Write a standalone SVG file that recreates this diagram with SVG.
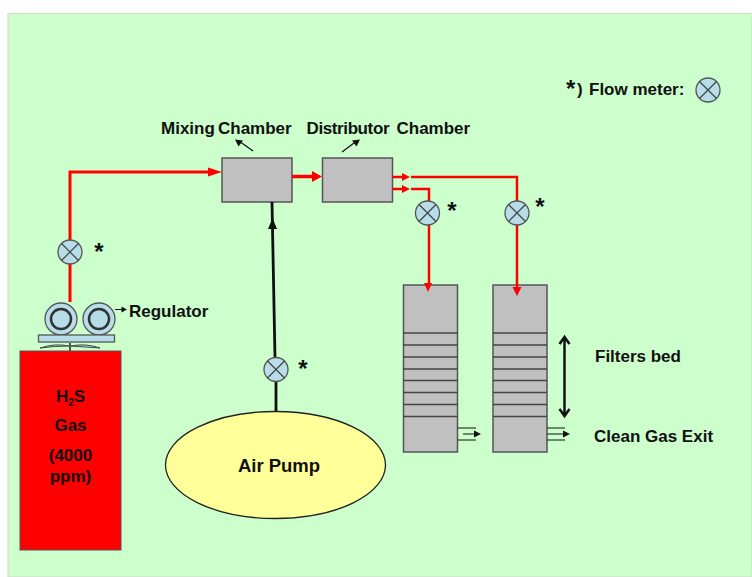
<svg xmlns="http://www.w3.org/2000/svg" width="752" height="577" viewBox="0 0 752 577">
<style>
text{font-family:"Liberation Sans",Arial,sans-serif;font-weight:bold;fill:#111;font-size:17px}
.c{text-anchor:middle}
.box{fill:#c0c0c0;stroke:#555;stroke-width:1.5}
.m{fill:#b7dde8;stroke:#555;stroke-width:1.3}
.x{stroke:#444;stroke-width:1.2;fill:none}
.red{stroke:#f00;fill:none;stroke-width:2.500}
.bk{stroke:#111;fill:none;stroke-width:1.2}
.sep{stroke:#444;stroke-width:1.4}
.st{font-size:24px}
</style>
<defs>
<g id="fm"><circle class="m" r="12"/><path class="x" d="M-8.500-8.500L8.500 8.500M8.500-8.500L-8.500 8.500"/></g>
<g id="reg"><circle class="m" r="16"/><circle r="10" fill="none" stroke="#333" stroke-width="2.500"/></g>
</defs>
<rect width="752" height="577" fill="#fff"/>
<rect id="background" x="8" y="13.500" width="744" height="563.500" fill="#ccffcc" stroke="#d2ddcc" stroke-width="1.200"/>
<g id="mixing-chamber"><rect class="box" x="222" y="158" width="70" height="44"/><text x="161" y="134">Mixing</text><text x="218" y="134">Chamber</text></g>
<g id="distributor-chamber"><rect class="box" x="322.500" y="158" width="70" height="44"/><text x="306.500" y="134" textLength="83">Distributor</text><text x="396.500" y="134">Chamber</text></g>
<g id="filter-1"><rect class="box" x="403.500" y="285" width="54" height="167"/><path class="sep" d="M403.500 333H457.500M403.500 345H457.500M403.500 357H457.500M403.500 369H457.500M403.500 380.500H457.500M403.500 392.500H457.500M403.500 404.500H457.500M403.500 416.500H457.500"/></g>
<g id="filter-2"><rect class="box" x="493" y="285" width="54" height="167"/><path class="sep" d="M493 333H547M493 345H547M493 357H547M493 369H547M493 380.500H547M493 392.500H547M493 404.500H547M493 416.500H547"/></g>
<g id="air-pump"><ellipse cx="275.500" cy="465" rx="110" ry="53.500" fill="#ffff99" stroke="#222" stroke-width="1.300"/><text class="c" x="279" y="472" style="font-size:18.500px">Air Pump</text></g>
<g id="connectors">
<path class="red" style="stroke-width:3" d="M70 302V172H212"/>
<path d="M222 172L208 167.500V176.500Z" fill="#f00"/>
<path class="red" style="stroke-width:3.500" d="M292 176.500H314"/>
<path d="M322 176.500L312 171V182Z" fill="#f00"/>
<path class="red" d="M392 177H402M392 189H402M411 177H517V202M411 189H429V202M429 224V284M517 224V290"/>
<path d="M410 177L402 173V181ZM410 189L402 185V193ZM428 292L424 283H432ZM517 296L512.500 287H521.500Z" fill="#f00"/>
<path stroke="#111" stroke-width="2.800" fill="none" d="M272 202L275 358M276 382V411"/>
<path d="M272.500 218L268 229H277Z" fill="#111"/>
<path class="bk" d="M253 151L239 141M342 152L356 141.500M115 309.500H122M458 428H476M463 434H476M458 440H476M547 428H565M547 434H565M547 440H565"/>
<path d="M235 139.500L243 140.500L238.500 146.500ZM360 139.500L352 140.500L356.500 146.500ZM127 309.500L121.500 306.500V312.500ZM481 434L474 430.500V437.500ZM570 434L563 430.500V437.500Z" fill="#111"/>
<path stroke="#111" stroke-width="2.500" fill="none" d="M564.500 338V414M559.500 344L564.500 337L569.500 344M559.500 409L564.500 416L569.500 409"/>
</g>
<g id="flow-meter-key"><use href="#fm" x="708" y="90"/><text class="st" x="566" y="97">*</text><text x="577" y="95">)</text><text x="589" y="95">Flow meter:</text></g>
<g id="meter-1"><use href="#fm" x="70" y="252"/><text class="c st" x="99" y="260">*</text></g>
<g id="meter-2"><use href="#fm" x="427.500" y="213"/><text class="c st" x="452" y="219">*</text></g>
<g id="meter-3"><use href="#fm" x="517" y="213"/><text class="c st" x="540" y="215">*</text></g>
<g id="meter-4"><use href="#fm" x="276" y="369.500"/><text class="c st" x="303" y="377">*</text></g>
<g id="regulator"><use href="#reg" x="61" y="319"/><use href="#reg" x="99" y="319"/><rect class="m" x="38.500" y="335" width="76" height="7"/>
<path d="M70 343V351" stroke="#222" stroke-width="1.500"/><path d="M40 348Q55 343 69 346Q55 346 40 348ZM71 346Q85 343 100 348Q85 347 71 346Z" fill="#b7dde8" stroke="#444" stroke-width="1"/>
<text x="129" y="317">Regulator</text></g>
<g id="gas-cylinder"><rect x="20" y="351" width="101" height="199" fill="#f00" stroke="#555" stroke-width="1"/>
<text class="c" x="70.500" y="402">H<tspan dy="4" style="font-size:10px">2</tspan><tspan dy="-4">S</tspan></text><text class="c" x="70.500" y="431">Gas</text><text class="c" x="70.500" y="461">(4000</text><text class="c" x="70.500" y="482">ppm)</text></g>
<g id="labels"><text x="595" y="362">Filters bed</text><text x="594" y="442">Clean Gas Exit</text></g>
</svg>
